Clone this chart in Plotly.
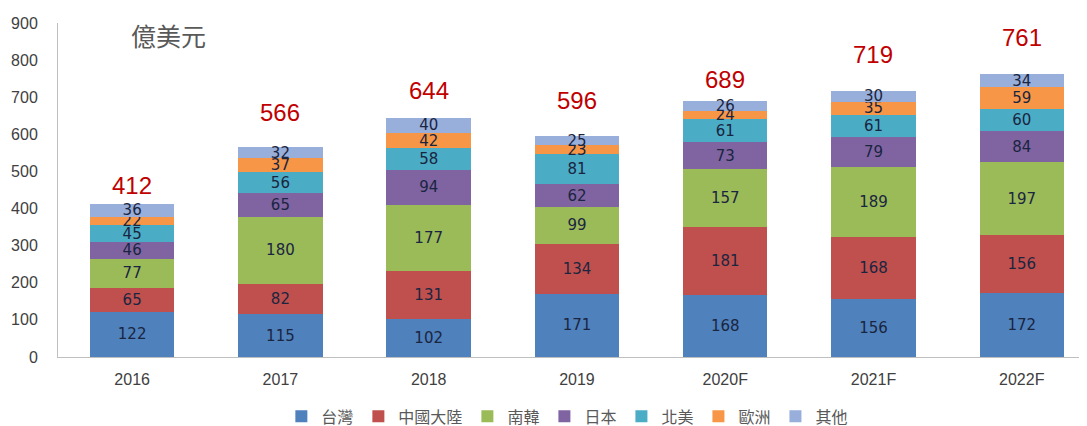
import plotly.graph_objects as go

years = ["2016", "2017", "2018", "2019", "2020F", "2021F", "2022F"]
series_names = ["台灣", "中國大陸", "南韓", "日本", "北美", "歐洲", "其他"]
taiwan = [122, 115, 102, 171, 168, 156, 172]
china = [65, 82, 131, 134, 181, 168, 156]
korea = [77, 180, 177, 99, 157, 189, 197]
japan = [46, 65, 94, 62, 73, 79, 84]
north_america = [45, 56, 58, 81, 61, 61, 60]
europe = [22, 37, 42, 23, 24, 35, 59]
others = [36, 32, 40, 25, 26, 30, 34]
totals = [412, 566, 644, 596, 689, 719, 761]

# styling (not data)
colors = ["#4F81BD", "#C0504D", "#9BBB59", "#8064A2", "#4BACC6", "#F79646", "#98AEDB"]
total_label_shift_px = [18, 34, 28, 36, 21, 36, 37]

all_series = [taiwan, china, korea, japan, north_america, europe, others]

fig = go.Figure()
for name, vals, col in zip(series_names, all_series, colors):
    fig.add_trace(go.Bar(
        x=years, y=vals, name=name, marker=dict(color=col, line=dict(width=0)),
        text=[str(v) for v in vals], textposition="inside", insidetextanchor="middle",
        textangle=0, constraintext="none",
        textfont=dict(family="DejaVu Sans", size=15, color="#1A2540"),
        width=0.57,
    ))

stack_tops = [sum(s[i] for s in all_series) for i in range(len(years))]
for i in range(len(years)):
    fig.add_annotation(x=i, y=stack_tops[i], text=str(totals[i]), showarrow=False,
                       xref="x", yref="y", yanchor="middle", yshift=total_label_shift_px[i],
                       font=dict(family="Liberation Sans", size=24, color="#C00000"))

fig.add_annotation(xref="paper", yref="paper", x=0.069, y=0.964, xanchor="left", yanchor="middle",
                   text="億美元", showarrow=False,
                   font=dict(family="Noto Sans CJK TC", size=25, color="#595959"))

fig.update_layout(
    barmode="stack",
    width=1079, height=426,
    margin=dict(l=50, r=0, t=15, b=75),
    plot_bgcolor="white", paper_bgcolor="white",
    uniformtext=dict(mode="show", minsize=15),
    legend=dict(orientation="h", x=0.495, xanchor="center", y=-0.178, yanchor="middle",
                font=dict(family="Noto Sans CJK TC", size=16, color="#595959"),
                itemwidth=30, traceorder="normal"),
    xaxis=dict(type="category", range=[-0.5, 6.44], showline=True, linecolor="#BFBFBF", linewidth=1,
               ticks="", ticklabelstandoff=8, automargin=False,
               tickfont=dict(family="Liberation Sans", size=16, color="#404040")),
    yaxis=dict(range=[0, 900], dtick=100, showgrid=False, showline=True, linecolor="#BFBFBF",
               linewidth=1, ticks="", zeroline=False, ticklabelstandoff=16, automargin=False,
               tickfont=dict(family="Liberation Sans", size=16, color="#404040")),
)

fig.write_html("out.html")
